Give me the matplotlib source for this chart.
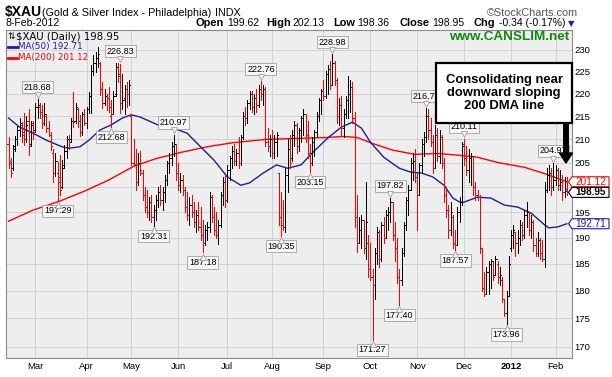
import numpy as np
import pandas as pd
import matplotlib
matplotlib.use('Agg')
from matplotlib import pyplot as plt
from matplotlib.patches import Polygon, Rectangle, FancyArrow
from matplotlib.lines import Line2D
from matplotlib.transforms import IdentityTransform, offset_copy
from matplotlib.ticker import NullLocator

# daily OHLC for $XAU, 10-Feb-2011 .. 8-Feb-2012
opens = [209, 205, 204, 208.5, 210, 212, 213, 211.5, 210, 214,
         209, 213.5, 212, 217, 217, 216, 213.5, 215, 212.5, 211,
         207, 203, 203, 202, 200, 204.5, 207.5, 210, 210, 214,
         214, 216.5, 214, 211.5, 215.5, 213.5, 216.5, 219.5, 225, 227,
         228, 227, 221, 218, 219.5, 219, 215, 215.5, 220, 226,
         224.5, 218, 219, 221, 220, 215, 205, 204.5, 201, 205,
         203, 198.5, 196, 195, 197, 194, 195.5, 197.5, 199, 197.5,
         199, 201.5, 205, 206, 208.5, 209, 203, 200.5, 201.5, 199.5,
         196, 194.5, 196.5, 195, 193, 194.5, 192, 190.5, 189, 191.5,
         192, 198, 194, 191.5, 190.5, 192.5, 198.5, 201, 197.5, 203.5,
         206, 207.5, 205.5, 207, 205, 210.5, 215, 214.5, 218, 220,
         217, 219, 217.5, 221, 220, 221, 209.5, 208.5, 210, 207,
         209.5, 203, 194, 192.5, 192, 202.5, 208, 206, 211, 213,
         208.5, 212, 214.5, 215.5, 211, 207, 205, 209.5, 211.5, 215,
         218.5, 220.5, 219.5, 224.5, 225.5, 222, 227, 223, 215, 217.5,
         212.5, 215.5, 218.5, 220, 221.5, 214.5, 194, 189, 191.5, 193.5,
         188, 189, 184, 182.5, 181, 187, 191, 186, 192.5, 190,
         194.5, 195, 197, 190.5, 188, 182.5, 182, 187, 192.5, 197.5,
         199.5, 205, 205.5, 202, 198.5, 204.5, 209, 210.5, 215, 212,
         209.5, 204, 211, 206.5, 210.5, 205, 198.5, 195.5, 191.5, 194,
         189, 188.5, 195, 197, 209, 206, 203.5, 206, 206.5, 200,
         198.5, 198, 188, 180.5, 179.5, 183.5, 185, 185.5, 183, 185,
         182.5, 182, 178.5, 176, 179, 188, 190.5, 191, 189, 190,
         192.5, 190.5, 194.5, 195, 191.5, 193, 188.5, 187, 189.5, 187,
         186, 199.5, 202.5, 203, 200, 201.5, 203.5, 200.5, 201, 199,
         199.62]
highs = [210.5, 206, 208.7, 210.7, 212.9, 214.6, 213.8, 215.6, 215, 216.5,
         214, 214, 218, 218.68, 218, 217.5, 218, 215.5, 214, 211.6,
         207.9, 207.1, 205.3, 206.6, 205.6, 208.7, 210.7, 211, 214.6, 220.3,
         218, 216.7, 215.3, 216, 216.5, 217, 220.3, 226.4, 228.9, 229.5,
         230.7, 227.2, 222.7, 221, 220, 221.5, 218.6, 220.5, 227, 227,
         226.83, 224.5, 222, 222.5, 223, 215.5, 210, 208, 207, 207.5,
         203.5, 200, 199.5, 198, 198.5, 196.5, 198.5, 200, 200.5, 200,
         202.5, 205.5, 207, 209.5, 210.97, 209, 205, 203, 202.5, 200,
         199, 198, 198.5, 197, 195.5, 197, 196, 193.5, 192.5, 193,
         199, 198.5, 196, 195, 193.5, 199, 202, 203, 204.5, 206.5,
         208.5, 209, 208, 210.5, 211, 216, 217, 218.5, 220.5, 220.5,
         220, 221, 222, 222.76, 222, 221.5, 212.5, 211, 212, 211,
         211.5, 203, 199, 197.5, 204, 210, 211, 212, 214, 213.5,
         212.5, 215, 216.5, 215.5, 214, 209, 210.5, 212, 216, 219,
         221, 223, 225, 226.5, 227.5, 228.98, 227.5, 223.5, 219, 219.5,
         216.5, 219.5, 224, 223, 222.5, 216, 198.5, 194, 194.5, 193.5,
         201, 190.5, 189, 184, 188, 192, 191.5, 193, 194, 195.5,
         196, 197.82, 197, 193, 190, 184, 188, 193, 198, 200.5,
         206, 207, 208, 203, 205, 210, 211.5, 216.7, 216.5, 214.5,
         211, 213, 212.5, 212, 211, 206, 200, 196.5, 197, 194.5,
         191.5, 196, 198, 209.5, 210.11, 208.5, 208, 207, 206.5, 201,
         199.5, 198.5, 188, 183.5, 184.5, 185.5, 186, 185.5, 186.5, 185.5,
         184.5, 182.5, 178.5, 180, 186.5, 191.5, 192.5, 191, 191.5, 193.5,
         193, 195.5, 197, 195, 194.5, 193.5, 190, 191, 190, 189.5,
         201, 204, 204.5, 204, 204.97, 204.5, 204, 203.5, 202.5, 202,
         202.13]
lows = [204, 202, 203.5, 207.5, 208.7, 210.7, 209.5, 208.7, 209.5, 206.6,
        208.5, 210, 211.5, 214.5, 214.5, 212.5, 213, 211.6, 210.7, 207.7,
        201.1, 202.3, 197.29, 198.5, 199.8, 203.9, 206, 207.9, 209.5, 212.6,
        213.5, 212.6, 210.7, 211, 213, 212.5, 215.6, 215.8, 224.2, 224.8,
        226, 219.7, 216.9, 217.5, 216.3, 216, 212.68, 215.5, 219.5, 222.7,
        215.8, 216.5, 215.5, 217, 217.5, 204.5, 204.3, 199.5, 200.5, 202.5,
        197.5, 195, 194, 193.5, 193, 192.31, 193.5, 196, 196.5, 195.5,
        197, 200.5, 203, 204.5, 206.5, 201.5, 199.5, 199, 198.5, 195,
        193.5, 192.5, 194, 192, 191, 191.5, 189.5, 187.18, 188.5, 189.5,
        191, 193, 190.5, 190, 188.8, 192, 196.5, 196, 197, 201.5,
        204, 204.5, 204.5, 204, 204.5, 210, 213, 213.5, 216.5, 216,
        215.5, 216, 217, 218.5, 217.5, 208.5, 207.5, 206.5, 206, 206,
        206.5, 192.5, 190.35, 191.5, 191, 199, 204, 205.5, 208.5, 207,
        207.5, 209.5, 211, 209.5, 206, 203.15, 204.5, 206.5, 210.5, 214,
        215.5, 218.5, 219, 220, 221, 222, 222, 213.5, 213, 211,
        210.5, 214.5, 214.5, 216, 213.6, 192, 187.3, 189, 188, 187,
        186, 182.5, 182, 171.27, 178.5, 185, 184.5, 185.5, 189, 190,
        191.5, 193, 189.5, 185.5, 181.5, 177.4, 181, 186.5, 191.5, 194.5,
        199.5, 201.5, 201, 191.5, 198.5, 203, 206.5, 209.5, 210, 208.5,
        203, 204, 205.5, 205, 204, 197, 194, 190, 190.5, 188,
        187.57, 188.5, 193, 196.5, 204.5, 202.5, 201, 200.5, 198.5, 197.5,
        197.5, 187, 180, 179, 179.5, 179.5, 180.5, 182, 183, 181.5,
        181, 178, 175.5, 173.96, 179, 187.5, 188, 186.5, 187, 188.5,
        189.5, 190, 192, 190.5, 190, 187.5, 186.5, 186.5, 186, 185.5,
        184.4, 199, 199.5, 198.5, 199.5, 200.5, 199.5, 199.5, 197.5, 198,
        198.36]
closes = [205.5, 203, 208, 210, 212, 213.5, 211, 210, 213, 208.5,
          213, 211.5, 217, 217.5, 216, 213.5, 215.5, 212.5, 211, 208.5,
          203, 205.5, 201, 199.5, 204, 207.5, 210, 209.5, 214, 213.8,
          217, 214, 211.5, 215.5, 213.5, 216.5, 219.5, 225, 227, 228,
          229, 221, 218, 219.5, 219, 217, 215.5, 219.5, 226, 224,
          218, 218.5, 221, 220, 222, 205, 204.8, 201, 205, 203.5,
          198.5, 196, 195, 197, 194, 195.5, 197.5, 199, 197.5, 199,
          201.5, 205, 206, 208.5, 209, 203, 200.5, 201.5, 199.5, 196,
          194.5, 196.5, 195, 193, 194.5, 192, 190.5, 189, 191.5, 192,
          198, 194, 191.5, 190.5, 192.5, 198.5, 201, 197.5, 203.5, 206,
          207.5, 205.5, 207, 205, 210.5, 215, 214.5, 218, 220, 217,
          219, 217.5, 221, 220, 221, 209.5, 208.5, 210, 207, 209.5,
          211, 194, 192.5, 192, 202.5, 208, 205, 211, 213, 208.5,
          212, 214.5, 215.5, 211, 207, 205, 209.5, 211.5, 215, 218.5,
          220.5, 219.5, 224.5, 225.5, 222, 227, 223, 215, 217.5, 212.5,
          215.5, 218.5, 220, 221.5, 214.5, 194, 189, 191.5, 193.5, 188,
          193, 184, 182.5, 181, 187, 191, 186, 192.5, 190, 194.5,
          195, 197, 190.5, 188, 182.5, 182, 187, 192.5, 197.5, 199.5,
          205, 205.5, 202, 198.5, 204.5, 209, 210.5, 215, 212, 209.5,
          204, 211, 206.5, 210.5, 205, 198.5, 195.5, 191.5, 195, 189,
          188.5, 195, 197, 208.5, 206, 203.5, 206, 206.5, 200, 198.5,
          198, 188, 180.5, 179.5, 183.5, 185, 185.5, 182.5, 186, 182.5,
          183, 178.5, 176, 179, 185, 190.5, 191.5, 189, 190, 192.5,
          190.5, 194.5, 195, 191.5, 193, 188.5, 187, 189.5, 187, 186,
          199.5, 202.5, 203, 200, 201.5, 203.5, 200.5, 201, 199, 199.29,
          198.95]

# moving averages (bar index, value)
ma50_idx = [0, 5, 11, 17, 24, 27, 32, 36, 41, 46, 51, 55, 59, 65, 71, 75, 80, 86, 92, 98,
            104, 108, 114, 120, 125, 131, 136, 143, 149, 154, 158, 162, 168, 175, 180, 185,
            190, 195, 199, 202, 204, 210, 216, 222, 228, 234, 240, 242, 246, 250]
ma50_val = [214.6, 212.6, 211.3, 209.8, 208.4, 208.1, 208.4, 209.8, 212.0, 213.1,
            214.6, 215.3, 214.8, 213.5, 212.2, 212.2, 211.3, 208.4, 205.6, 202.1,
            200.4, 200.9, 202.9, 204.6, 203.9, 204.6, 207.1, 210.3, 212.6, 213.7,
            212.4, 209.4, 206.2, 203.9, 203.1, 202.9, 202.1, 200.4, 197.8, 197.0,
            197.0, 198.0, 197.8, 196.4, 196.0, 194.8, 192.5, 191.9, 192.1, 192.71]
ma200_idx = [0, 11, 23, 35, 45, 56, 66, 77, 90, 101, 116, 130, 143, 150, 156, 163, 172,
             182, 192, 202, 210, 219, 231, 240, 250]
ma200_val = [193.2, 195.4, 197.2, 199.4, 201.5, 204.3, 205.9, 207.2, 208.5, 209.3, 210.0,
             210.2, 210.4, 210.6, 210.4, 209.1, 207.7, 206.8, 207.0, 206.6, 206.2, 205.1,
             204.1, 202.8, 201.12]

# labelled swing highs / lows (bar index)
hi_marks = [13, 50, 74, 113, 145, 171, 187, 204, 244]
lo_marks = [22, 46, 65, 87, 122, 135, 163, 175, 200, 223]

month_names = ['Mar', 'Apr', 'May', 'Jun', 'Jul', 'Aug', 'Sep', 'Oct', 'Nov', 'Dec', '2012', 'Feb']
y_ticks = [170, 175, 180, 185, 190, 195, 200, 205, 210, 215, 220, 225, 230]

holidays = ['2011-02-21', '2011-04-22', '2011-05-30', '2011-07-04', '2011-09-05',
            '2011-11-24', '2011-12-26', '2012-01-02', '2012-01-16']
dates = pd.bdate_range('2011-02-10', '2012-02-08', freq='C', holidays=holidays)
n = len(closes)
assert len(dates) == n == len(opens) == len(highs) == len(lows)

W, H = 612, 377
RED = '#ff0000'
BLUE = '#1e1e9c'
SANS = 'Liberation Sans'

fig = plt.figure(figsize=(W / 100, H / 100), dpi=100)
fig.patch.set_facecolor('white')
ax = fig.add_axes([6 / W, 1 - 358 / H, 566 / W, 328 / H])
ax.set_facecolor('#eeeeee')
ax.set_yscale('log')
ax.set_ylim(168.1, 234.7)
ax.set_xlim(-1.12, 252.3)

x = np.arange(n)
cols = []
for i in range(n):
    prev = closes[i - 1] if i > 0 else opens[0]
    cols.append('#000000' if closes[i] >= prev else RED)

ax.plot(ma200_idx, ma200_val, color=RED, lw=1.0, zorder=2)
ax.plot(ma50_idx, ma50_val, color=BLUE, lw=1.0, zorder=2)
ax.vlines(x, lows, highs, colors=cols, lw=0.72, zorder=3, antialiased=False)
ax.hlines(opens, x - 0.5, x, colors=cols, lw=0.72, zorder=3, antialiased=False)
ax.hlines(closes, x, x + 0.5, colors=cols, lw=0.72, zorder=3, antialiased=False)

# axes / grid
month_pos = []
for i in range(1, n):
    if dates[i].month != dates[i - 1].month:
        month_pos.append(i)
ax.set_xticks(month_pos)
ax.set_xticklabels(month_names, fontsize=6.8, family=SANS)
for t in ax.get_xticklabels():
    if t.get_text() == '2012':
        t.set_fontweight('bold')
ax.tick_params(axis='x', length=0, pad=3)
ax.yaxis.tick_right()
ax.set_yticks(y_ticks)
ax.set_yticklabels(['' if v == 200 else str(v) for v in y_ticks], fontsize=6.8, family=SANS)
ax.yaxis.set_minor_locator(NullLocator())
ax.tick_params(axis='y', length=0, pad=2)
ax.grid(True, color='#d2d2d2', lw=0.7)
ax.set_axisbelow(True)
for s in ax.spines.values():
    s.set_color('#8a8a8a')
    s.set_linewidth(0.8)

# swing labels
box = dict(boxstyle='square,pad=0.18', fc='#f7f7f7', ec='#a0a0a0', lw=0.6)
for i in hi_marks:
    ax.annotate('%.2f' % highs[i], xy=(i, highs[i]), xytext=(0, 8.8), textcoords='offset points',
                ha='center', va='center', fontsize=6.5, family=SANS, bbox=box, zorder=5)
    tr = offset_copy(ax.transData, fig=fig, x=0, y=3.2, units='points')
    ax.plot(i, highs[i], marker='v', ms=4, mfc='#f7f7f7', mec='#a0a0a0', mew=0.6, transform=tr, zorder=5)
for i in lo_marks:
    ax.annotate('%.2f' % lows[i], xy=(i, lows[i]), xytext=(0, -7.4), textcoords='offset points',
                ha='center', va='center', fontsize=6.5, family=SANS, bbox=box, zorder=5)
    tr = offset_copy(ax.transData, fig=fig, x=0, y=-3.0, units='points')
    ax.plot(i, lows[i], marker='^', ms=4, mfc='#f7f7f7', mec='#a0a0a0', mew=0.6, transform=tr, zorder=5)


def T(px, py, s, **kw):
    return fig.text(px / W, 1 - py / H, s, **kw)


# header
T(5, 16, '$XAU', fontsize=10, fontweight='bold', family=SANS, va='baseline')
T(41.5, 16, '(Gold & Silver Index - Philadelphia)', fontsize=7.75, family=SANS, va='baseline')
T(215, 16, 'INDX', fontsize=7.75, family=SANS, va='baseline')
T(578, 16, '\u00a9StockCharts.com', fontsize=7.8, family=SANS, va='baseline', ha='right', color='#555555')
T(5, 26.5, '8-Feb-2012', fontsize=7.5, family=SANS, va='baseline')
pieces = [(195.4, 'Open', True), (227, '199.62', False), (266.5, 'High', True), (292, '202.13', False),
          (332.8, 'Low', True), (357.3, '198.36', False), (400, 'Close', True), (432.3, '198.95', False),
          (473, 'Chg', True), (499.4, '-0.34 (-0.17%)', False)]
for px_, s, b in pieces:
    T(px_, 26.5, s, fontsize=7.9 if b else 7.5, fontweight='bold' if b else 'normal',
      family=SANS, va='baseline')
T(568, 26.5, '\u25bc', fontsize=6, color='#1a1acc', va='baseline')

# in-plot legend
T(7, 36.5, '\u21c5', fontsize=6.5, va='center', family='DejaVu Sans')
T(16.5, 36.5, '$XAU (Daily) 198.95', fontsize=7.3, va='center', family='DejaVu Sans')
fig.add_artist(Line2D([8, 16.5], [H - 46.5, H - 46.5], transform=IdentityTransform(), color=BLUE, lw=2))
T(18.3, 46.5, 'MA(50) 192.71', fontsize=6.3, va='center', family='DejaVu Sans', color='#1a1ab0')
fig.add_artist(Line2D([8, 16.5], [H - 57.5, H - 57.5], transform=IdentityTransform(), color=RED, lw=2))
T(18.3, 57.5, 'MA(200) 201.12', fontsize=6.3, va='center', family='DejaVu Sans', color=RED)
T(569, 37, 'www.CANSLIM.net', fontsize=9.7, fontweight='bold', family=SANS, color='#108a10',
  ha='right', va='center')

# right-hand value tags
tags = [(201.12, '201.12', RED, RED, 'normal'),
        (198.95, '198.95', '#000000', '#000000', 'bold'),
        (192.71, '192.71', BLUE, '#1a1ab0', 'normal')]
for v, s, ec, tc, fw in tags:
    yd = ax.transData.transform((0, v))[1]
    poly = Polygon([(568.5, yd), (572, yd + 5), (609, yd + 5), (609, yd - 5), (572, yd - 5)],
                   closed=True, transform=IdentityTransform(), fc='white', ec=ec, lw=0.8, zorder=6)
    fig.add_artist(poly)
    fig.text(590.5 / W, yd / H, s, fontsize=7.2, fontweight=fw, family=SANS, color=tc,
             ha='center', va='center', zorder=7)

# comment box + arrow
fig.add_artist(Rectangle((436, H - 123), 136, 60, transform=IdentityTransform(),
                         fc='white', ec='black', lw=1.6, zorder=10))
T(504, 93, 'Consolidating near\ndownward sloping\n200 DMA line', fontsize=9.4, fontweight='bold',
  family=SANS, ha='center', va='center', linespacing=1.15, zorder=11)
fig.add_artist(FancyArrow(566, H - 123, 0, -40, width=4.5, head_width=13, head_length=10,
                          length_includes_head=True, transform=IdentityTransform(),
                          fc='black', ec='black', zorder=11))

fig.savefig('out.png', dpi=100)
